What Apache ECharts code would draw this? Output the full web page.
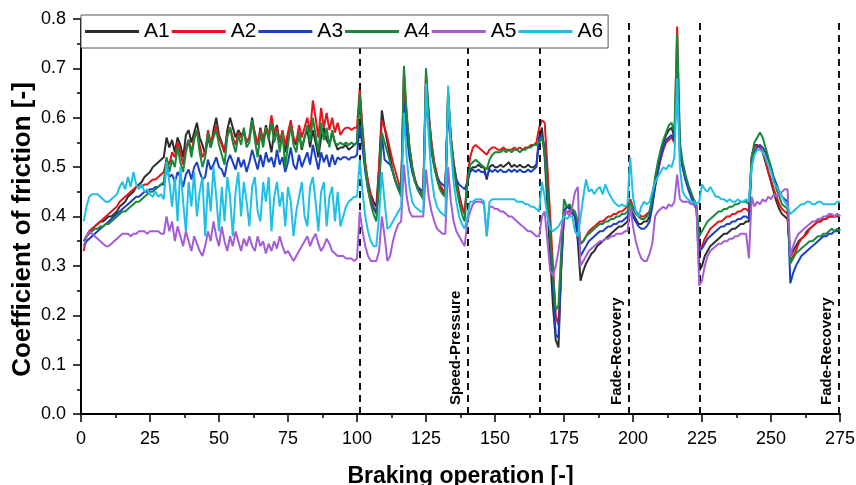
<!DOCTYPE html>
<html>
<head>
<meta charset="utf-8">
<script src="https://cdn.jsdelivr.net/npm/echarts@6/dist/echarts.min.js"></script>
<style>
html,body{margin:0;padding:0;background:#fff;}
#chart{width:856px;height:485px;}
</style>
</head>
<body>
<div id="chart"></div>
<script>
// Braking operation numbers run 1..275; value i belongs to operation i+1
const seriesNames = ['A1','A2','A3','A4','A5','A6'];
const xTicks = [0,25,50,75,100,125,150,175,200,225,250,275];
const yTicks = [0.0,0.1,0.2,0.3,0.4,0.5,0.6,0.7,0.8];
const phaseBoundaries = [101, 140.1, 166.2, 198.3, 224.3, 274.4];
const phaseLabels = ['', 'Speed-Pressure', '', 'Fade-Recovery', '', 'Fade-Recovery'];

const a1 = [
0.35,0.36,0.37,0.375,0.38,0.385,0.39,0.39,0.395,0.40,
0.40,0.405,0.41,0.42,0.425,0.43,0.44,0.445,0.45,0.46,
0.465,0.47,0.48,0.485,0.49,0.50,0.505,0.51,0.515,0.52,
0.56,0.54,0.555,0.53,0.56,0.545,0.52,0.565,0.575,0.55,
0.57,0.59,0.56,0.545,0.525,0.56,0.54,0.575,0.60,0.565,
0.55,0.53,0.575,0.60,0.58,0.56,0.575,0.565,0.57,0.55,
0.56,0.60,0.565,0.545,0.58,0.55,0.585,0.56,0.53,0.57,
0.585,0.55,0.57,0.53,0.56,0.59,0.555,0.545,0.57,0.535,
0.56,0.575,0.54,0.575,0.55,0.52,0.56,0.58,0.555,0.545,
0.57,0.55,0.535,0.54,0.54,0.545,0.535,0.54,0.545,0.55,
0.645,0.56,0.50,0.47,0.445,0.43,0.42,0.50,0.615,0.58,
0.55,0.52,0.49,0.47,0.455,0.445,0.68,0.60,0.54,0.50,
0.475,0.455,0.445,0.44,0.68,0.60,0.545,0.505,0.48,0.46,
0.45,0.445,0.64,0.56,0.51,0.475,0.445,0.42,0.405,0.47,
0.495,0.50,0.50,0.505,0.50,0.50,0.475,0.50,0.505,0.50,
0.50,0.505,0.50,0.505,0.51,0.50,0.505,0.50,0.505,0.50,
0.50,0.505,0.50,0.50,0.505,0.56,0.58,0.52,0.42,0.32,
0.22,0.15,0.135,0.30,0.41,0.42,0.42,0.41,0.40,0.35,
0.27,0.29,0.305,0.315,0.325,0.33,0.34,0.345,0.35,0.355,
0.36,0.365,0.37,0.375,0.38,0.38,0.385,0.39,0.415,0.405,
0.395,0.385,0.385,0.39,0.39,0.40,0.43,0.47,0.50,0.53,
0.55,0.565,0.575,0.58,0.56,0.70,0.53,0.50,0.475,0.46,
0.445,0.43,0.42,0.29,0.30,0.32,0.33,0.34,0.345,0.35,
0.355,0.36,0.365,0.365,0.37,0.375,0.375,0.38,0.385,0.385,
0.39,0.39,0.52,0.545,0.545,0.54,0.53,0.51,0.49,0.47,
0.45,0.43,0.415,0.405,0.40,0.395,0.32,0.33,0.34,0.35,
0.355,0.36,0.37,0.375,0.38,0.385,0.39,0.39,0.395,0.395,
0.40,0.40,0.40,0.405,0.40
];
const a2 = [
0.33,0.36,0.37,0.375,0.38,0.385,0.39,0.395,0.40,0.405,
0.41,0.415,0.42,0.43,0.435,0.44,0.445,0.45,0.455,0.46,
0.46,0.46,0.465,0.465,0.47,0.475,0.475,0.48,0.485,0.49,
0.515,0.505,0.53,0.52,0.55,0.53,0.505,0.54,0.555,0.53,
0.56,0.575,0.545,0.52,0.53,0.575,0.55,0.565,0.585,0.56,
0.545,0.53,0.565,0.58,0.56,0.545,0.57,0.56,0.575,0.55,
0.56,0.59,0.57,0.545,0.575,0.555,0.58,0.565,0.605,0.57,
0.58,0.55,0.575,0.545,0.57,0.595,0.56,0.55,0.585,0.56,
0.58,0.60,0.57,0.635,0.60,0.56,0.62,0.58,0.61,0.575,
0.60,0.57,0.59,0.565,0.575,0.58,0.58,0.575,0.58,0.58,
0.66,0.58,0.51,0.47,0.44,0.42,0.405,0.50,0.595,0.58,
0.56,0.535,0.51,0.49,0.47,0.455,0.69,0.60,0.54,0.50,
0.475,0.46,0.45,0.445,0.69,0.61,0.55,0.51,0.485,0.465,
0.455,0.445,0.65,0.56,0.51,0.47,0.44,0.42,0.405,0.48,
0.52,0.54,0.545,0.54,0.535,0.53,0.525,0.535,0.54,0.54,
0.535,0.535,0.54,0.535,0.535,0.535,0.54,0.535,0.54,0.535,
0.54,0.54,0.545,0.545,0.55,0.58,0.595,0.59,0.50,0.40,
0.30,0.20,0.18,0.30,0.40,0.41,0.41,0.405,0.40,0.39,
0.345,0.35,0.36,0.37,0.375,0.38,0.385,0.39,0.39,0.395,
0.40,0.40,0.405,0.405,0.41,0.41,0.415,0.42,0.435,0.42,
0.41,0.405,0.40,0.40,0.405,0.41,0.43,0.46,0.49,0.515,
0.535,0.55,0.555,0.56,0.55,0.785,0.54,0.50,0.48,0.46,
0.445,0.43,0.42,0.335,0.34,0.355,0.365,0.375,0.38,0.385,
0.39,0.39,0.395,0.40,0.40,0.405,0.405,0.41,0.41,0.415,
0.415,0.41,0.52,0.54,0.545,0.54,0.53,0.515,0.49,0.475,
0.455,0.44,0.425,0.415,0.41,0.405,0.31,0.32,0.33,0.345,
0.355,0.36,0.365,0.375,0.38,0.385,0.39,0.39,0.395,0.395,
0.40,0.40,0.40,0.40,0.40
];
const a3 = [
0.34,0.35,0.355,0.36,0.365,0.37,0.375,0.38,0.385,0.39,
0.395,0.40,0.405,0.41,0.415,0.42,0.425,0.43,0.435,0.44,
0.44,0.445,0.45,0.45,0.455,0.455,0.46,0.46,0.465,0.465,
0.50,0.48,0.485,0.47,0.49,0.48,0.46,0.485,0.495,0.475,
0.50,0.51,0.49,0.475,0.48,0.515,0.495,0.505,0.52,0.50,
0.495,0.48,0.51,0.525,0.51,0.495,0.52,0.50,0.515,0.49,
0.51,0.535,0.515,0.495,0.525,0.50,0.53,0.51,0.52,0.50,
0.535,0.505,0.52,0.49,0.51,0.54,0.505,0.495,0.525,0.50,
0.515,0.53,0.505,0.545,0.52,0.495,0.53,0.51,0.525,0.50,
0.525,0.505,0.52,0.515,0.52,0.52,0.515,0.52,0.52,0.525,
0.585,0.54,0.49,0.455,0.43,0.415,0.41,0.46,0.565,0.515,
0.51,0.505,0.49,0.47,0.46,0.45,0.63,0.57,0.52,0.49,
0.47,0.46,0.455,0.45,0.64,0.58,0.53,0.50,0.48,0.47,
0.465,0.46,0.62,0.545,0.50,0.475,0.465,0.46,0.455,0.47,
0.49,0.495,0.49,0.495,0.49,0.49,0.48,0.495,0.49,0.495,
0.49,0.495,0.49,0.49,0.495,0.49,0.495,0.49,0.495,0.49,
0.49,0.495,0.49,0.495,0.50,0.56,0.565,0.54,0.46,0.36,
0.26,0.16,0.155,0.30,0.41,0.42,0.415,0.41,0.40,0.37,
0.32,0.33,0.34,0.35,0.355,0.36,0.365,0.37,0.37,0.375,
0.38,0.38,0.385,0.385,0.39,0.39,0.395,0.40,0.42,0.40,
0.39,0.38,0.375,0.375,0.38,0.39,0.42,0.46,0.49,0.52,
0.54,0.555,0.56,0.565,0.555,0.70,0.53,0.50,0.475,0.455,
0.44,0.425,0.415,0.33,0.335,0.345,0.355,0.36,0.365,0.37,
0.375,0.38,0.38,0.385,0.385,0.39,0.39,0.395,0.395,0.40,
0.40,0.395,0.51,0.53,0.54,0.545,0.54,0.53,0.515,0.50,
0.48,0.465,0.45,0.44,0.435,0.43,0.265,0.285,0.30,0.31,
0.32,0.325,0.33,0.335,0.34,0.345,0.35,0.355,0.36,0.36,
0.365,0.365,0.37,0.37,0.375
];
const a4 = [
0.35,0.36,0.365,0.37,0.375,0.375,0.38,0.38,0.385,0.385,
0.39,0.395,0.40,0.405,0.41,0.41,0.415,0.42,0.425,0.43,
0.43,0.435,0.44,0.445,0.45,0.45,0.455,0.46,0.465,0.47,
0.52,0.49,0.515,0.50,0.54,0.51,0.49,0.53,0.555,0.52,
0.555,0.575,0.53,0.50,0.52,0.57,0.54,0.56,0.575,0.545,
0.525,0.505,0.56,0.58,0.55,0.53,0.565,0.545,0.58,0.54,
0.55,0.595,0.555,0.52,0.57,0.54,0.58,0.555,0.59,0.55,
0.575,0.53,0.57,0.50,0.545,0.585,0.545,0.53,0.57,0.54,
0.56,0.585,0.55,0.60,0.565,0.53,0.59,0.555,0.58,0.54,
0.575,0.55,0.545,0.55,0.545,0.55,0.545,0.55,0.545,0.55,
0.65,0.57,0.50,0.455,0.425,0.405,0.39,0.46,0.57,0.55,
0.53,0.51,0.49,0.47,0.455,0.44,0.705,0.61,0.54,0.50,
0.47,0.455,0.445,0.435,0.70,0.60,0.54,0.50,0.475,0.455,
0.445,0.44,0.655,0.56,0.50,0.46,0.43,0.405,0.39,0.47,
0.505,0.51,0.515,0.51,0.505,0.50,0.495,0.515,0.525,0.53,
0.53,0.53,0.535,0.53,0.535,0.53,0.535,0.535,0.53,0.535,
0.535,0.54,0.54,0.545,0.545,0.55,0.56,0.53,0.45,0.36,
0.28,0.21,0.22,0.33,0.435,0.42,0.425,0.415,0.41,0.39,
0.345,0.35,0.36,0.365,0.37,0.375,0.38,0.385,0.385,0.39,
0.39,0.395,0.395,0.40,0.40,0.405,0.405,0.41,0.43,0.415,
0.405,0.40,0.395,0.395,0.40,0.41,0.44,0.48,0.51,0.535,
0.555,0.57,0.585,0.59,0.57,0.77,0.55,0.51,0.485,0.465,
0.45,0.435,0.425,0.36,0.37,0.38,0.39,0.395,0.40,0.405,
0.41,0.41,0.415,0.415,0.42,0.42,0.425,0.425,0.43,0.43,
0.43,0.425,0.52,0.55,0.56,0.57,0.56,0.54,0.52,0.50,
0.475,0.455,0.44,0.425,0.42,0.415,0.305,0.315,0.325,0.33,
0.335,0.34,0.345,0.35,0.35,0.355,0.36,0.36,0.365,0.365,
0.37,0.375,0.37,0.375,0.37
];
const a5 = [
0.34,0.36,0.37,0.365,0.36,0.355,0.35,0.345,0.34,0.34,
0.345,0.35,0.355,0.36,0.365,0.365,0.365,0.36,0.365,0.365,
0.37,0.37,0.37,0.365,0.37,0.37,0.37,0.37,0.365,0.365,
0.40,0.37,0.39,0.35,0.38,0.36,0.34,0.37,0.35,0.33,
0.36,0.345,0.33,0.32,0.34,0.37,0.35,0.39,0.36,0.34,
0.38,0.35,0.33,0.36,0.34,0.37,0.35,0.33,0.355,0.34,
0.36,0.34,0.33,0.36,0.34,0.35,0.325,0.345,0.33,0.35,
0.335,0.36,0.34,0.325,0.33,0.32,0.31,0.32,0.33,0.34,
0.35,0.36,0.34,0.355,0.365,0.345,0.33,0.34,0.355,0.345,
0.33,0.325,0.32,0.32,0.32,0.315,0.315,0.315,0.31,0.315,
0.41,0.37,0.34,0.32,0.31,0.31,0.31,0.33,0.40,0.36,
0.31,0.32,0.35,0.37,0.385,0.39,0.505,0.44,0.41,0.40,
0.40,0.40,0.40,0.40,0.495,0.44,0.41,0.39,0.375,0.37,
0.365,0.365,0.50,0.43,0.39,0.37,0.36,0.35,0.34,0.39,
0.41,0.425,0.43,0.43,0.43,0.425,0.36,0.42,0.42,0.415,
0.415,0.41,0.41,0.405,0.40,0.40,0.395,0.39,0.385,0.38,
0.375,0.37,0.37,0.365,0.36,0.36,0.40,0.41,0.35,0.29,
0.28,0.30,0.33,0.37,0.405,0.41,0.40,0.42,0.45,0.46,
0.30,0.31,0.32,0.33,0.335,0.34,0.345,0.35,0.35,0.355,
0.355,0.36,0.36,0.365,0.365,0.365,0.37,0.37,0.42,0.38,
0.35,0.33,0.315,0.31,0.31,0.325,0.345,0.40,0.41,0.415,
0.42,0.415,0.425,0.42,0.43,0.485,0.435,0.43,0.43,0.43,
0.425,0.425,0.42,0.26,0.27,0.30,0.32,0.33,0.335,0.34,
0.345,0.345,0.35,0.35,0.355,0.355,0.36,0.36,0.365,0.365,
0.365,0.315,0.44,0.42,0.43,0.425,0.435,0.43,0.44,0.435,
0.445,0.44,0.445,0.45,0.455,0.455,0.32,0.34,0.355,0.365,
0.37,0.375,0.38,0.385,0.39,0.39,0.395,0.395,0.40,0.40,
0.405,0.405,0.40,0.405,0.40
];
const a6 = [
0.39,0.42,0.44,0.445,0.445,0.445,0.44,0.435,0.43,0.43,
0.435,0.44,0.445,0.46,0.47,0.455,0.48,0.46,0.49,0.465,
0.455,0.465,0.45,0.455,0.445,0.44,0.45,0.44,0.445,0.435,
0.51,0.47,0.42,0.48,0.39,0.50,0.43,0.37,0.47,0.42,
0.49,0.40,0.45,0.48,0.36,0.47,0.41,0.50,0.44,0.37,
0.46,0.39,0.48,0.44,0.36,0.45,0.49,0.40,0.47,0.43,
0.38,0.46,0.48,0.41,0.39,0.47,0.43,0.48,0.37,0.44,
0.47,0.42,0.45,0.38,0.46,0.43,0.36,0.41,0.44,0.47,
0.40,0.38,0.46,0.48,0.43,0.37,0.45,0.47,0.38,0.44,
0.46,0.39,0.45,0.38,0.40,0.42,0.43,0.435,0.44,0.44,
0.515,0.45,0.40,0.37,0.35,0.34,0.34,0.40,0.49,0.43,
0.375,0.38,0.39,0.40,0.41,0.42,0.61,0.52,0.46,0.43,
0.42,0.415,0.41,0.41,0.67,0.56,0.48,0.44,0.42,0.41,
0.405,0.40,0.665,0.54,0.47,0.43,0.40,0.385,0.375,0.40,
0.43,0.43,0.435,0.435,0.435,0.43,0.36,0.43,0.435,0.435,
0.435,0.435,0.435,0.435,0.435,0.435,0.435,0.43,0.43,0.43,
0.425,0.425,0.42,0.42,0.415,0.41,0.47,0.44,0.40,0.375,
0.37,0.375,0.38,0.39,0.40,0.395,0.40,0.40,0.37,0.36,
0.40,0.44,0.475,0.45,0.455,0.445,0.455,0.46,0.445,0.465,
0.45,0.44,0.43,0.425,0.42,0.425,0.42,0.425,0.52,0.44,
0.41,0.40,0.42,0.43,0.425,0.43,0.45,0.47,0.48,0.49,
0.50,0.495,0.505,0.50,0.52,0.68,0.50,0.45,0.44,0.435,
0.43,0.43,0.425,0.43,0.465,0.455,0.45,0.46,0.45,0.44,
0.44,0.435,0.435,0.43,0.435,0.43,0.43,0.435,0.43,0.43,
0.435,0.43,0.50,0.525,0.535,0.535,0.53,0.52,0.505,0.49,
0.47,0.46,0.45,0.44,0.43,0.42,0.405,0.41,0.415,0.42,
0.425,0.425,0.43,0.43,0.425,0.425,0.43,0.43,0.425,0.425,
0.425,0.425,0.425,0.43,0.43
];

const allValues = [a1,a2,a3,a4,a5,a6];
const colors = ['#2d2d2d','#e8141c','#1b3fc4','#16893a','#a45dd4','#1fc0e8'];

const FONT = 'Liberation Sans, Arial, sans-serif';
const chart = echarts.init(document.getElementById('chart'), null, {renderer:'canvas'});

const markData = phaseBoundaries.map((b, i) => ({
  xAxis: b,
  label: phaseLabels[i] ? {
    show: true, formatter: phaseLabels[i], position: 'insideStartTop',
    fontFamily: FONT, fontSize: 15, fontWeight: 'bold', color: '#000', distance: 4,
    padding: [0, 0, 0, 5]
  } : {show: false}
}));

const series = seriesNames.map((name, k) => {
  const s = {
    name: name,
    type: 'line',
    data: allValues[k].map((v, i) => [i + 1, v]),
    symbol: 'none',
    showSymbol: false,
    lineStyle: {color: colors[k], width: 2},
    itemStyle: {color: colors[k]},
    z: 3 + k
  };
  if (k === 0) {
    s.markLine = {
      silent: true,
      symbol: ['none','none'],
      animation: false,
      lineStyle: {color: '#111', type: [7, 5], width: 2},
      data: markData
    };
  }
  return s;
});

chart.setOption({
  animation: false,
  backgroundColor: '#fff',
  textStyle: {fontFamily: FONT},
  grid: {left: 81, right: 16, top: 19, bottom: 71, containLabel: false, outerBoundsMode: 'none'},
  legend: {
    data: seriesNames,
    left: 81, top: 15,
    orient: 'horizontal',
    icon: 'rect',
    itemWidth: 54, itemHeight: 3, itemGap: 2,
    padding: [6, 5, 6, 4],
    backgroundColor: '#fff',
    borderColor: '#555', borderWidth: 1,
    textStyle: {fontFamily: FONT, fontSize: 21, color: '#000'},
    z: 20
  },
  xAxis: {
    type: 'value', min: xTicks[0], max: xTicks[xTicks.length - 1], interval: 25,
    name: 'Braking operation [-]', nameLocation: 'middle', nameGap: 51,
    nameTextStyle: {fontFamily: FONT, fontSize: 23, fontWeight: 'bold', color: '#000'},
    axisLine: {show: true, onZero: false, lineStyle: {color: '#000', width: 2}},
    axisTick: {show: true, inside: false, length: 8, lineStyle: {color: '#000', width: 1.5}},
    minorTick: {show: true, splitNumber: 2, length: 4, lineStyle: {color: '#000', width: 1.5}},
    splitLine: {show: false},
    axisLabel: {fontFamily: FONT, fontSize: 18, color: '#000', margin: 16}
  },
  yAxis: {
    type: 'value', min: yTicks[0], max: yTicks[yTicks.length - 1], interval: 0.1,
    name: 'Coefficient of friction [-]', nameLocation: 'middle', nameGap: 45,
    nameMoveOverlap: false,
    nameTextStyle: {fontFamily: FONT, fontSize: 26, fontWeight: 'bold', color: '#000',
      padding: [0, 26, 0, 0]},
    axisLine: {show: true, lineStyle: {color: '#000', width: 2}},
    axisTick: {show: true, inside: false, length: 8, lineStyle: {color: '#000', width: 1.5}},
    minorTick: {show: true, splitNumber: 2, length: 4, lineStyle: {color: '#000', width: 1.5}},
    splitLine: {show: false},
    axisLabel: {fontFamily: FONT, fontSize: 18, color: '#000', margin: 15,
      formatter: v => v.toFixed(1)}
  },
  series: series
});
</script>
</body>
</html>
